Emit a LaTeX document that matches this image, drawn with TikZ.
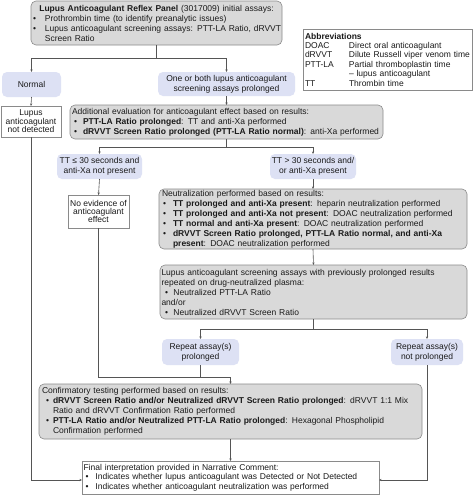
\documentclass[tikz,border=0pt]{standalone}
\usepackage{fontspec}
\setmainfont{Liberation Sans}
\usetikzlibrary{arrows.meta}
\definecolor{boxgray}{HTML}{D9D9D9}
\definecolor{lav}{HTML}{DDE1F4}
\definecolor{edgec}{HTML}{8A8A8A}
\definecolor{linec}{HTML}{555555}
\definecolor{txt}{HTML}{1A1A1A}
\newcommand\bl[2]{\makebox[#2][l]{\hspace*{#1}\textbullet}}
\begin{document}
\begin{tikzpicture}[x=1pt,y=-1pt,
  every node/.style={font=\fontsize{8.5}{10}\selectfont, text=txt},
  base/.style={inner sep=0pt, outer sep=0pt, line width=0.6pt},
  graybox/.style={base, draw=edgec, fill=boxgray, rounded corners=5pt, align=left},
  lavbox/.style={base, fill=lav, rounded corners=5pt, align=center},
  whitebox/.style={base, draw=edgec, fill=white, align=center},
  smalllead/.style={font=\fontsize{8.5}{8.4}\selectfont},
  conn/.style={draw=linec, line width=0.6pt},
  arr/.style={conn, -{Stealth[length=2.6pt,width=2.2pt]}}
]
\useasboundingbox (0,0) rectangle (474,496);
\fill[white] (0,0) rectangle (474,496);

\node[graybox, inner xsep=2pt, text width=247pt, minimum height=44pt] (top) at (156.5,23) {%
\makebox[\linewidth][c]{\textbf{Lupus Anticoagulant Reflex Panel} (3017009) initial assays:}\\
\mbox{\bl{0pt}{12pt}Prothrombin time (to identify preanalytic issues)}\\
\mbox{\bl{0pt}{12pt}Lupus anticoagulant screening assays: PTT-LA Ratio, dRVVT}\\
\mbox{\hspace*{12pt}Screen Ratio}};

\node[whitebox, align=left, inner xsep=2pt, text width=165pt, minimum height=61pt,
  font=\fontsize{8.5}{9.4}\selectfont] (abbr) at (387.5,59.5) {%
\textbf{Abbreviations}\\
\makebox[44pt][l]{DOAC}Direct oral anticoagulant\\
\makebox[44pt][l]{dRVVT}Dilute Russell viper venom time\\
\makebox[44pt][l]{PTT-LA}Partial thromboplastin time\\
\hspace*{44pt}– lupus anticoagulant\\
\makebox[44pt][l]{TT}Thrombin time};

\node[lavbox, minimum width=59pt, minimum height=25pt] (normal) at (31.5,84.5) {Normal};
\node[lavbox, minimum width=137pt, minimum height=24pt] (one) at (226.5,84) {One or both lupus anticoagulant\\screening assays prolonged};

\node[whitebox, smalllead, minimum width=60pt, minimum height=31pt] (notdet) at (31,121.5) {Lupus\\anticoagulant\\not detected};

\node[graybox, inner xsep=2pt, text width=309pt, minimum height=34pt] (addl) at (226.5,122) {%
\mbox{Additional evaluation for anticoagulant effect based on results:}\\
\mbox{\bl{2pt}{11pt}\textbf{PTT-LA Ratio prolonged}: TT and anti-Xa performed}\\
\mbox{\bl{2pt}{11pt}\textbf{dRVVT Screen Ratio prolonged (PTT-LA Ratio normal)}: anti-Xa performed}};

\node[lavbox, minimum width=85pt, minimum height=25pt] (tt1) at (99.5,166.5) {TT ≤ 30 seconds and\\anti-Xa not present};
\node[lavbox, minimum width=86pt, minimum height=25pt] (tt2) at (313,166.5) {TT > 30 seconds and/\\or anti-Xa present};

\node[whitebox, smalllead, minimum width=61pt, minimum height=33pt] (noev) at (98.5,211.5) {No evidence of\\anticoagulant\\effect};

\node[graybox, inner xsep=3pt, text width=302pt, minimum height=60pt] (neutr) at (313,219) {%
\mbox{Neutralization performed based on results:}\\
\mbox{\bl{1pt}{11pt}\textbf{TT prolonged and anti-Xa present}: heparin neutralization performed}\\
\mbox{\bl{1pt}{11pt}\textbf{TT prolonged and anti-Xa not present}: DOAC neutralization performed}\\
\mbox{\bl{1pt}{11pt}\textbf{TT normal and anti-Xa present}: DOAC neutralization performed}\\
\mbox{\bl{1pt}{11pt}\textbf{dRVVT Screen Ratio prolonged, PTT-LA Ratio normal, and anti-Xa}}\\
\mbox{\hspace*{11pt}\textbf{present}: DOAC neutralization performed}};

\node[graybox, inner xsep=1.5pt, text width=304pt, minimum height=54pt] (rep) at (313.5,292) {%
\mbox{Lupus anticoagulant screening assays with previously prolonged results}\\
\mbox{repeated on drug-neutralized plasma:}\\
\mbox{\bl{3.5pt}{12pt}Neutralized PTT-LA Ratio}\\
\mbox{and/or}\\
\mbox{\bl{3.5pt}{12pt}Neutralized dRVVT Screen Ratio}};

\node[lavbox, minimum width=77pt, minimum height=26pt] (rp) at (200.5,352) {Repeat assay(s)\\prolonged};
\node[lavbox, minimum width=72pt, minimum height=26pt] (rnp) at (427,352) {Repeat assay(s)\\not prolonged};

\node[graybox, inner xsep=3pt, text width=377pt, minimum height=55pt] (conf) at (230.5,411.5) {%
\mbox{Confirmatory testing performed based on results:}\\
\mbox{\bl{4pt}{11pt}\textbf{dRVVT Screen Ratio and/or Neutralized dRVVT Screen Ratio prolonged}: dRVVT 1:1 Mix}\\
\mbox{\hspace*{11pt}Ratio and dRVVT Confirmation Ratio performed}\\
\mbox{\bl{4pt}{11pt}\textbf{PTT-LA Ratio and/or Neutralized PTT-LA Ratio prolonged}: Hexagonal Phospholipid}\\
\mbox{\hspace*{11pt}Confirmation performed}};

\node[whitebox, align=left, inner xsep=1.5pt, text width=294pt, minimum height=33pt,
  font=\fontsize{8.5}{9.5}\selectfont] (final) at (230.5,477.5) {%
\mbox{Final interpretation provided in Narrative Comment:}\\
\mbox{\bl{2pt}{12pt}Indicates whether lupus anticoagulant was Detected or Not Detected}\\
\mbox{\bl{2pt}{12pt}Indicates whether anticoagulant neutralization was performed}};

% connectors
\coordinate (j1) at (156.5,58);
\coordinate (j2) at (226.5,147);
\coordinate (j3) at (313.5,329.5);
\coordinate (j4) at (230.5,377);
\draw[conn] (top.south) -- (j1);
\draw[arr] (j1) -| (normal.north);
\draw[arr] (j1) -| (one.north);
\draw[arr] (normal.south) -- (notdet.north);
\draw[arr] (one.south) -- (addl.north);
\draw[arr] (notdet.south) |- ([yshift=-2.5pt]final.west);
\draw[conn] (addl.south) -- (j2);
\draw[arr] (j2) -| (tt1.north);
\draw[arr] (j2) -| (tt2.north);
\draw[arr] (tt1.south) -- (noev.north);
\draw[arr] (tt2.south) -- (neutr.north);
\draw[arr] (neutr.south) -- (rep.north);
\draw[conn] (rep.south) -- (j3);
\draw[arr] (j3) -| (rp.north);
\draw[arr] (j3) -| (rnp.north);
\draw[conn] (noev.south) |- (j4);
\draw[conn] (rp.south) -- (rp.south |- j4);
\draw[arr] (j4) -- (conf.north);
\draw[arr] (rnp.south) |- ([yshift=-2.5pt]final.east);
\draw[arr] (conf.south) -- (final.north);
\end{tikzpicture}
\end{document}
